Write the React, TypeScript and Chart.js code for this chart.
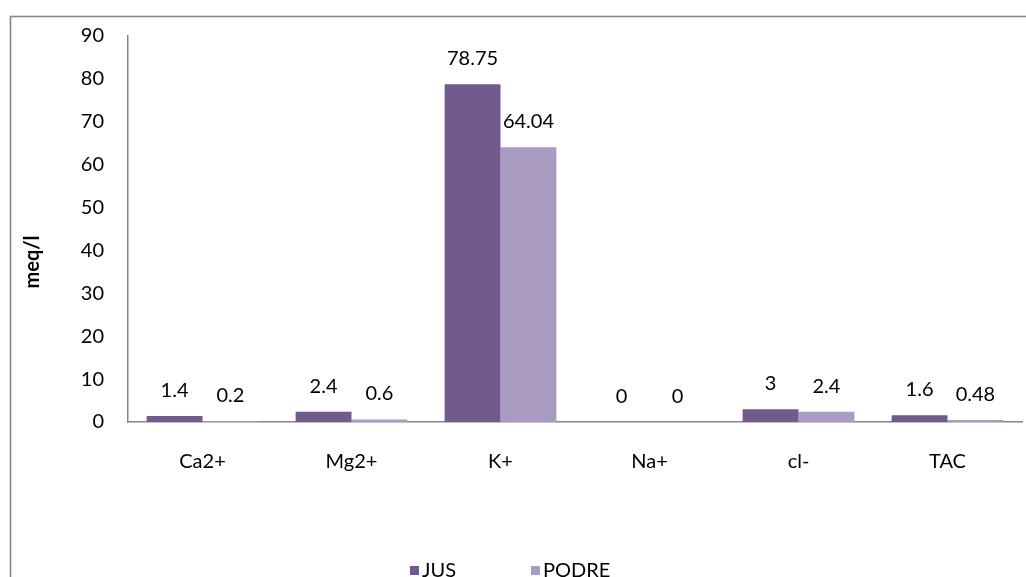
import React, { useEffect, useRef } from "react";
import { Chart, registerables } from "chart.js";

Chart.register(...registerables);

const categories = ["Ca2+", "Mg2+", "K+", "Na+", "cl-", "TAC"];
const jusValues = [1.4, 2.4, 78.75, 0, 3, 1.6];
const podreValues = [0.2, 0.6, 64.04, 0, 2.4, 0.48];
const seriesNames = ["JUS", "PODRE"];
const seriesColors = ["#725A8F", "#AA9BC0"];
const yTitle = "meq/l";

const FONT = "Lato, 'Open Sans', sans-serif";
const FS = 20;

const overlay = {
  id: "overlay",
  beforeDraw(chart: any) {
    const ctx = chart.ctx;
    ctx.save();
    ctx.fillStyle = "#ffffff";
    ctx.fillRect(0, 0, chart.width, chart.height);
    ctx.strokeStyle = "#898989";
    ctx.lineWidth = 1.6;
    ctx.strokeRect(10.5, 16.5, chart.width + 20, chart.height + 20);
    ctx.restore();
  },
  afterDatasetsDraw(chart: any) {
    const ctx = chart.ctx;
    ctx.save();
    ctx.fillStyle = "#000";
    ctx.font = `${FS}px ${FONT}`;
    ctx.textAlign = "center";
    ctx.textBaseline = "alphabetic";
    chart.data.datasets.forEach((ds: any, i: number) => {
      const meta = chart.getDatasetMeta(i);
      meta.data.forEach((el: any, j: number) => {
        ctx.fillText(String(ds.data[j]), el.x, el.y - 19);
      });
    });
    // y title
    ctx.save();
    ctx.translate(33, 262);
    ctx.rotate(-Math.PI / 2);
    ctx.font = `bold ${FS}px ${FONT}`;
    ctx.textBaseline = "middle";
    ctx.fillText(yTitle, 0, 0);
    ctx.restore();
    // legend
    const legendX = [410, 531];
    ctx.font = `${FS}px ${FONT}`;
    ctx.textAlign = "left";
    ctx.textBaseline = "middle";
    seriesNames.forEach((n, i) => {
      ctx.fillStyle = seriesColors[i];
      ctx.fillRect(legendX[i], 566, 9, 9);
      ctx.fillStyle = "#000";
      ctx.fillText(n, legendX[i] + 12, 571);
    });
    ctx.restore();
  },
};

export default function App() {
  const ref = useRef<HTMLCanvasElement>(null);
  useEffect(() => {
    if (!ref.current) return;
    const chart = new Chart(ref.current, {
      type: "bar",
      data: {
        labels: categories,
        datasets: [
          { label: seriesNames[0], data: jusValues, backgroundColor: seriesColors[0], categoryPercentage: 0.75, barPercentage: 1 },
          { label: seriesNames[1], data: podreValues, backgroundColor: seriesColors[1], categoryPercentage: 0.75, barPercentage: 1 },
        ],
      },
      options: {
        animation: false,
        responsive: false,
        layout: { padding: { top: 33, right: 4, left: 0, bottom: 0 } },
        plugins: { legend: { display: false }, tooltip: { enabled: false } },
        scales: {
          x: {
            grid: { display: false, drawTicks: false },
            border: { display: true, color: "#868686", width: 1.5 },
            ticks: { color: "#000", font: { family: FONT, size: FS }, padding: 28, maxRotation: 0 },
            afterFit: (s: any) => { s.height = 155; },
          },
          y: {
            min: 0,
            max: 90,
            grid: { display: false, drawTicks: false },
            border: { display: true, color: "#868686", width: 1.5 },
            ticks: { stepSize: 10, color: "#000", font: { family: FONT, size: FS }, padding: 24 },
            afterFit: (s: any) => { s.width = 128; },
          },
        },
      },
      plugins: [overlay],
    });
    return () => chart.destroy();
  }, []);
  return (
    <div style={{ position: "absolute", left: 0, top: 0, width: 1026, height: 577 }}>
      <canvas ref={ref} width={1026} height={577} style={{ display: "block" }} />
    </div>
  );
}
